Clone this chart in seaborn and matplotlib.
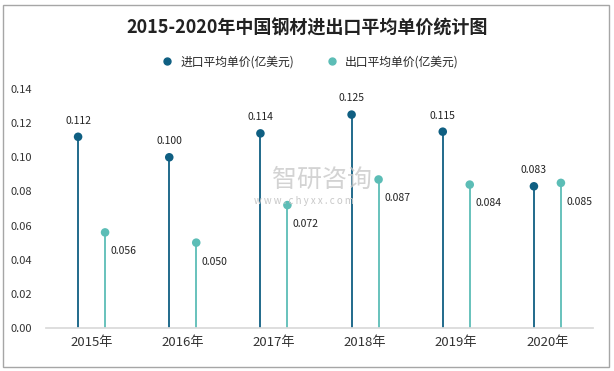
import matplotlib
matplotlib.use("Agg")
import matplotlib.pyplot as plt
import numpy as np
import pandas as pd
import seaborn as sns
from matplotlib.patches import Rectangle

# ── Data ──────────────────────────────────────────────────────────────────────
years = ["2015年", "2016年", "2017年", "2018年", "2019年", "2020年"]
import_price = [0.112, 0.100, 0.114, 0.125, 0.115, 0.083]
export_price = [0.056, 0.050, 0.072, 0.087, 0.084, 0.085]
series_names = ["进口平均单价(亿美元)", "出口平均单价(亿美元)"]
colors = ["#0f5f82", "#5cbdb6"]
y_ticks = [0.00, 0.02, 0.04, 0.06, 0.08, 0.10, 0.12, 0.14]

sns.set_theme(style="white")
plt.rcParams["font.family"] = ["Noto Sans CJK SC", "DejaVu Sans"]

offset = 0.148
rows = []
for i, y in enumerate(years):
    rows.append({"x": i - offset, "value": import_price[i], "series": series_names[0]})
    rows.append({"x": i + offset, "value": export_price[i], "series": series_names[1]})
df = pd.DataFrame(rows)

fig = plt.figure(figsize=(6.14, 3.71), dpi=100)
ax = fig.add_axes([46 / 614, 43 / 371, 547 / 614, 239 / 371])

# ── Stems + heads ─────────────────────────────────────────────────────────────
for name, c in zip(series_names, colors):
    sub = df[df["series"] == name]
    ax.vlines(sub["x"], 0, sub["value"], color=c, lw=1.3, zorder=2)

sns.scatterplot(
    data=df, x="x", y="value", hue="series", palette=colors,
    s=38, edgecolor="none", ax=ax, zorder=3, legend=False,
)

# ── Data labels ───────────────────────────────────────────────────────────────
for i in range(len(years)):
    ax.annotate(f"{import_price[i]:.3f}", (i - offset, import_price[i]),
                xytext=(0, 8), textcoords="offset points",
                ha="center", va="bottom", fontsize=7.5, color="#222222")
    ax.annotate(f"{export_price[i]:.3f}", (i + offset, export_price[i]),
                xytext=(4, -10), textcoords="offset points",
                ha="left", va="top", fontsize=7.5, color="#222222")

ax.set_xlim(-0.5, len(years) - 0.5)
ax.set_ylim(0, 0.14)
ax.set_xticks(range(len(years)))
ax.set_xticklabels(years, fontsize=9.5, color="#333333")
ax.set_yticks(y_ticks)
ax.set_yticklabels([f"{v:.2f}" for v in y_ticks], fontsize=8, color="#333333")
ax.tick_params(axis="y", length=0, pad=10)
ax.tick_params(axis="x", length=0, pad=6)
for side in ["left", "right", "top"]:
    ax.spines[side].set_visible(False)
ax.spines["bottom"].set_color("#d9d9d9")
ax.set_xlabel("")
ax.set_ylabel("")

# ── Title and legend ──────────────────────────────────────────────────────────
fig.text(0.5, 343 / 371, "2015-2020年中国钢材进出口平均单价统计图",
         ha="center", va="center", fontsize=13, fontweight="bold", color="#222222")
handles = [plt.Line2D([], [], marker="o", ls="", color=c, markersize=5) for c in colors]
fig.legend(handles, series_names, loc="center", bbox_to_anchor=(0.5, 309 / 371),
           ncol=2, frameon=False, fontsize=8.5, handletextpad=0.1, columnspacing=2.2)

# ── Watermark ─────────────────────────────────────────────────────────────────
fig.text(0.525, 0.515, "智研咨询", fontsize=18, color="#c8c8c8", alpha=0.8,
         ha="center", va="center")
fig.text(0.495, 0.458, "w w w . c h y x x . c o m", fontsize=7, color="#c8c8c8",
         ha="center", va="center")

# ── Outer border ──────────────────────────────────────────────────────────────
fig.patches.append(Rectangle((3 / 614, 4 / 371), 606 / 614, 362 / 371,
                             transform=fig.transFigure, fill=False,
                             edgecolor="#a6a6a6", lw=1))

fig.savefig("out.png", dpi=100)
